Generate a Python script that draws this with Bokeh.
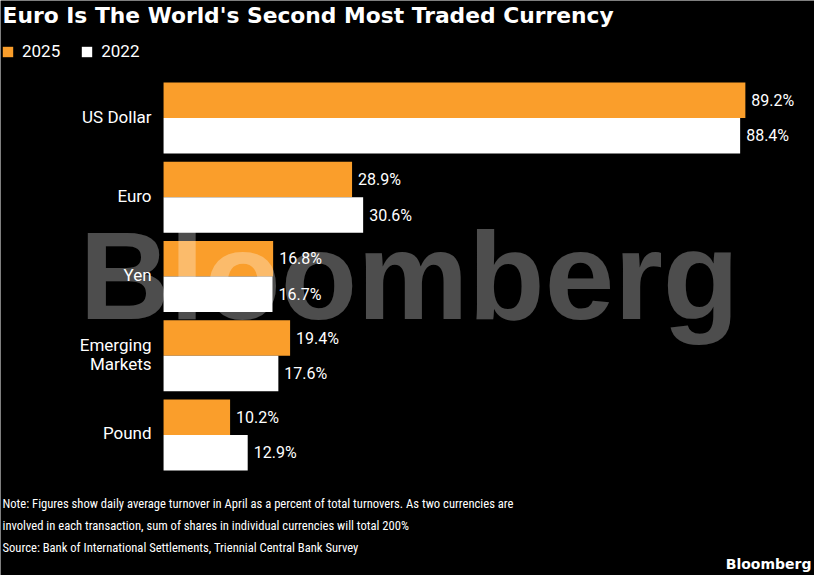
from bokeh.plotting import figure
from bokeh.models import Range1d, Label, Legend, LegendItem, ColumnDataSource
from bokeh.transform import dodge
from bokeh.embed import file_html
from bokeh.resources import INLINE
from bokeh.core.properties import value

title_text = "Euro Is The World's Second Most Traded Currency"
currencies = ["US Dollar", "Euro", "Yen", "Emerging\nMarkets", "Pound"]
share_2025 = [89.2, 28.9, 16.8, 19.4, 10.2]
share_2022 = [88.4, 30.6, 16.7, 17.6, 12.9]
years = ["2025", "2022"]
note_lines = [
    "Note: Figures show daily average turnover in April as a percent of total turnovers. As two currencies are",
    "involved in each transaction, sum of shares in individual currencies will total 200%",
    "Source: Bank of International Settlements, Triennial Central Bank Survey",
]
logo_text = "Bloomberg"

ORANGE = "#FA9E2B"
WHITE = "#FFFFFF"
LABEL_FONT = "Roboto"
NOTE_FONT = "Roboto Condensed"

W, H = 814, 575

src = ColumnDataSource(dict(
    pos=list(range(len(currencies))),
    cat=currencies,
    v2025=share_2025,
    v2022=share_2022,
    l2025=[f"{v}%" for v in share_2025],
    l2022=[f"{v}%" for v in share_2022],
    zero=[0] * len(currencies),
))

p = figure(width=W, height=H,
           x_range=Range1d(-25, 99.8),
           y_range=Range1d(5.773, -1.483),
           output_backend="svg", toolbar_location=None, title=None,
           x_axis_location=None, y_axis_location=None,
           min_border=0, min_border_left=0, min_border_right=0,
           min_border_top=0, min_border_bottom=0)

p.background_fill_color = "black"
p.border_fill_color = "black"
p.outline_line_color = None
p.grid.visible = False

BH = 0.448
off = BH / 2
r1 = p.hbar(y=dodge("pos", -off), left=0, right="v2025", height=BH,
            source=src, fill_color=ORANGE, line_color=None)
r2 = p.hbar(y=dodge("pos", off), left=0, right="v2022", height=BH,
            source=src, fill_color=WHITE, line_color=None)

p.text(x="v2025", y=dodge("pos", -off), text="l2025", source=src,
       x_offset=6, text_baseline="middle", text_align="left",
       text_font=value(LABEL_FONT), text_font_size="16px", text_color="white")
p.text(x="v2022", y=dodge("pos", off), text="l2022", source=src,
       x_offset=6, text_baseline="middle", text_align="left",
       text_font=value(LABEL_FONT), text_font_size="16px", text_color="white")

p.text(x="zero", y="pos", text="cat", source=src,
       x_offset=-12, y_offset=-1.5, text_baseline="middle", text_align="right",
       text_line_height=0.95,
       text_font=value(LABEL_FONT), text_font_size="17px", text_color="white")

p.add_layout(Label(x=79, y=300, x_units="screen", y_units="screen", text="Bloomberg",
                   text_font="Liberation Sans", text_font_style="bold",
                   text_font_size="125px", text_color="white", text_alpha=0.3,
                   text_baseline="alphabetic", text_align="left"))

p.add_layout(Label(x=2, y=H - 15, x_units="screen", y_units="screen", text=title_text,
                   text_font="DejaVu Sans", text_font_style="bold", text_font_size="21.8px",
                   text_color="white", text_baseline="alphabetic"))

legend = Legend(items=[LegendItem(label=years[0], renderers=[r1]),
                       LegendItem(label=years[1], renderers=[r2])],
                orientation="horizontal", location=(1, H - 61),
                padding=0, margin=0, spacing=20, label_standoff=8,
                glyph_width=13, glyph_height=13,
                background_fill_alpha=0, border_line_color=None,
                label_text_color="white", label_text_font=LABEL_FONT,
                label_text_font_size="17px")
p.add_layout(legend)

for i, line in enumerate(note_lines):
    p.add_layout(Label(x=2, y=H - 503 - 22 * i, x_units="screen", y_units="screen", text=line,
                       text_font=NOTE_FONT, text_font_size="12.6px", text_color="white",
                       text_baseline="alphabetic"))

p.add_layout(Label(x=811, y=H - 563, x_units="screen", y_units="screen", text=logo_text,
                   text_font="DejaVu Sans", text_font_style="bold", text_font_size="14px",
                   text_color="white", text_baseline="alphabetic", text_align="right"))

open("out.html", "w").write(file_html(p, INLINE))
